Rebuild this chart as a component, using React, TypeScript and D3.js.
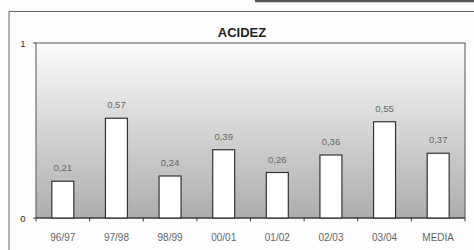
import * as d3 from 'd3'

const categories = ['96/97', '97/98', '98/99', '00/01', '01/02', '02/03', '03/04', 'MEDIA']
const values = [0.21, 0.57, 0.24, 0.39, 0.26, 0.36, 0.55, 0.37]
const yTicks = [0, 1]
const title = 'ACIDEZ'

const width = 474
const height = 250
const plot = { left: 36, right: 465, top: 43, bottom: 218 }

const fmt = (v: number) => v.toFixed(2).replace('.', ',')

export default function App() {
  const x = d3
    .scaleBand<string>()
    .domain(categories)
    .range([plot.left, plot.right])
    .paddingInner(0.59)
    .paddingOuter(0.295)
  const y = d3.scaleLinear([0, 1], [plot.bottom, plot.top])
  const step = x.step()
  const boundaries = d3.range(categories.length + 1).map((i) => plot.left + i * step)

  return (
    <svg
      width={width}
      height={height}
      style={{ position: 'absolute', left: 0, top: 0, background: '#fdfdfd' }}
      fontFamily="Liberation Sans, Arial, sans-serif"
    >
      <defs>
        <linearGradient id="bg" x1="0" y1="0" x2="0" y2="1">
          <stop offset="0%" stopColor="#fcfcfc" />
          <stop offset="100%" stopColor="#adadad" />
        </linearGradient>
      </defs>
      {/* scan artefact box at the top */}
      <line x1={255} x2={474} y1={1} y2={1} stroke="#555" strokeWidth={2.5} />
      {/* outer frame */}
      <path d={`M9,${height} V11.5 H${width}`} fill="none" stroke="#666" strokeWidth={1} />
      <text x={242} y={37} textAnchor="middle" fontSize={13} fontWeight="bold" fill="#222">
        {title}
      </text>
      <rect
        x={plot.left}
        y={plot.top}
        width={plot.right - plot.left}
        height={plot.bottom - plot.top}
        fill="url(#bg)"
        stroke="#555"
        strokeWidth={1}
      />
      {yTicks.map((t) => (
        <g key={t}>
          <line x1={plot.left - 3} x2={plot.left} y1={y(t)} y2={y(t)} stroke="#444" />
          <text x={23} y={y(t) + 3.5} fontSize={9.5} fill="#333" textAnchor="middle">
            {t}
          </text>
        </g>
      ))}
      {boundaries.map((b, i) => (
        <line key={i} x1={b} x2={b} y1={plot.bottom} y2={plot.bottom + 3.5} stroke="#444" />
      ))}
      <line x1={plot.left} x2={plot.right} y1={plot.bottom} y2={plot.bottom} stroke="#333" strokeWidth={1.2} />
      {values.map((v, i) => {
        const c = categories[i]
        const bx = x(c) ?? 0
        return (
          <g key={c}>
            <rect
              x={bx}
              y={y(v)}
              width={x.bandwidth()}
              height={y(0) - y(v)}
              fill="#ffffff"
              stroke="#333"
              strokeWidth={1.2}
            />
            <text
              x={bx + x.bandwidth() / 2}
              y={y(v) - 10}
              textAnchor="middle"
              fontSize={9.5}
              fill="#666"
            >
              {fmt(v)}
            </text>
            <text
              x={bx + x.bandwidth() / 2}
              y={240.5}
              textAnchor="middle"
              fontSize={10}
              fill="#666"
            >
              {c}
            </text>
          </g>
        )
      })}
    </svg>
  )
}
